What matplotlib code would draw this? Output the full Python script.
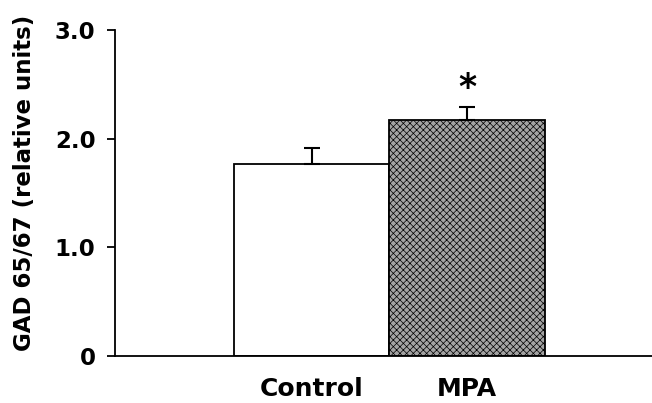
import matplotlib
matplotlib.use("Agg")
import matplotlib.pyplot as plt

plt.rcParams["font.family"] = ["DejaVu Sans"]
plt.rcParams["font.weight"] = "bold"
plt.rcParams["hatch.linewidth"] = 0.5

# Data
groups = ["Control", "MPA"]
means = [1.77, 2.17]
errors = [0.14, 0.12]
y_ticks = [0, 1.0, 2.0, 3.0]
y_tick_labels = ["0", "1.0", "2.0", "3.0"]

fig = plt.figure(figsize=(6.52, 4.03), dpi=100)
ax = fig.add_axes([115 / 652, 47 / 403, 1 - 115 / 652, 326 / 403])

x = [0, 1]
ax.bar(x[0], means[0], width=1.0, color="white", edgecolor="black", linewidth=1.3)
ax.bar(x[1], means[1], width=1.0, color="#a4a4a4", edgecolor="black",
       linewidth=1.3, hatch="xxxxx")

ax.errorbar(x, means, yerr=[[0, 0], errors], fmt="none", ecolor="black",
            elinewidth=1.5, capsize=6, capthick=1.5)

# significance marker over MPA
ax.text(x[1], means[1] + errors[1] + 0.18, "*", ha="center", va="center",
        fontsize=25, fontweight="bold")

ax.set_xlim(-1.264, 2.19)
ax.set_ylim(0, 3.0)
ax.set_xticks(x)
ax.set_xticklabels(groups, fontsize=18, fontweight="bold")
ax.set_yticks(y_ticks)
ax.set_yticklabels(y_tick_labels, fontsize=16.5, fontweight="bold")
ax.tick_params(axis="x", length=0, pad=15)
ax.tick_params(axis="y", length=6, width=1.3, pad=8)

ax.set_ylabel("GAD 65/67 (relative units)", fontsize=16.5, fontweight="bold")
ax.yaxis.set_label_coords(-0.148, 0.53)

for side in ["top", "right"]:
    ax.spines[side].set_visible(False)
for side in ["left", "bottom"]:
    ax.spines[side].set_linewidth(1.3)
ax.spines["left"].set_bounds(0, 3.0)

fig.savefig("out.png", dpi=100)
